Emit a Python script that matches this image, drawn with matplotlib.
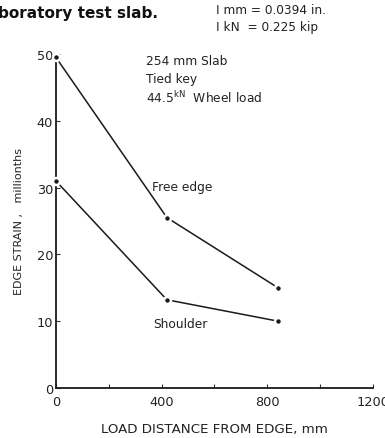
import matplotlib
matplotlib.use("Agg")
import matplotlib.pyplot as plt
from matplotlib.ticker import MultipleLocator

# values
distance = [0, 420, 840]
free_edge = [49.5, 25.5, 15.0]
shoulder = [31.0, 13.2, 10.0]
x_ticks = [0, 400, 800, 1200]
y_ticks = [0, 10, 20, 30, 40, 50]

plt.rcParams['font.family'] = ['DejaVu Sans']

fig = plt.figure(figsize=(3.85, 4.39), dpi=100)
ax = fig.add_axes([0.145, 0.114, 0.824, 0.761])

for ys in (free_edge, shoulder):
    ax.plot(distance, ys, color='#1a1a1a', lw=1.1, marker='o', ms=5,
            mfc='#1a1a1a', mec='white', mew=1.8, clip_on=False, zorder=3)

ax.set_xlim(0, 1200)
ax.set_ylim(0, 50)
ax.set_xticks(x_ticks)
ax.set_yticks(y_ticks)
ax.xaxis.set_minor_locator(MultipleLocator(200))
ax.tick_params(direction='in', length=3, width=0.8, labelsize=9.3,
               color='#333333', labelcolor='#222222')
ax.tick_params(which='minor', direction='in', length=3, width=0.8,
               color='#333333')
ax.tick_params(axis='x', pad=5)
ax.tick_params(axis='y', pad=2)
for s in ('top', 'right'):
    ax.spines[s].set_visible(False)
for s in ('left', 'bottom'):
    ax.spines[s].set_linewidth(1.3)
    ax.spines[s].set_color('#1a1a1a')

ax.set_xlabel('LOAD DISTANCE FROM EDGE, mm', fontsize=9.6, labelpad=10,
              color='#222222')
ax.set_ylabel('EDGE STRAIN ,   millionths', fontsize=8, labelpad=9,
              color='#222222')

fs = 8.8
ax.text(340, 49, '254 mm Slab', fontsize=fs, va='center', color='#222222')
ax.text(340, 46.3, 'Tied key', fontsize=fs, va='center', color='#222222')
ax.text(340, 43.5, r'44.5$^{\mathrm{kN}}$  Wheel load', fontsize=fs,
        va='center', color='#222222')
ax.text(365, 30.2, 'Free edge', fontsize=fs, va='center', color='#222222')
ax.text(370, 9.7, 'Shoulder', fontsize=fs, va='center', color='#222222')

fig.text(-0.005, 0.97, 'boratory test slab.', fontsize=11, fontweight='bold',
         ha='left', va='center', color='#111111')
fig.text(0.56, 0.975, 'I mm = 0.0394 in.', fontsize=8.7, ha='left',
         va='center', color='#222222')
fig.text(0.56, 0.937, 'I kN  = 0.225 kip', fontsize=8.7, ha='left',
         va='center', color='#222222')

fig.savefig('out.png', dpi=100)
